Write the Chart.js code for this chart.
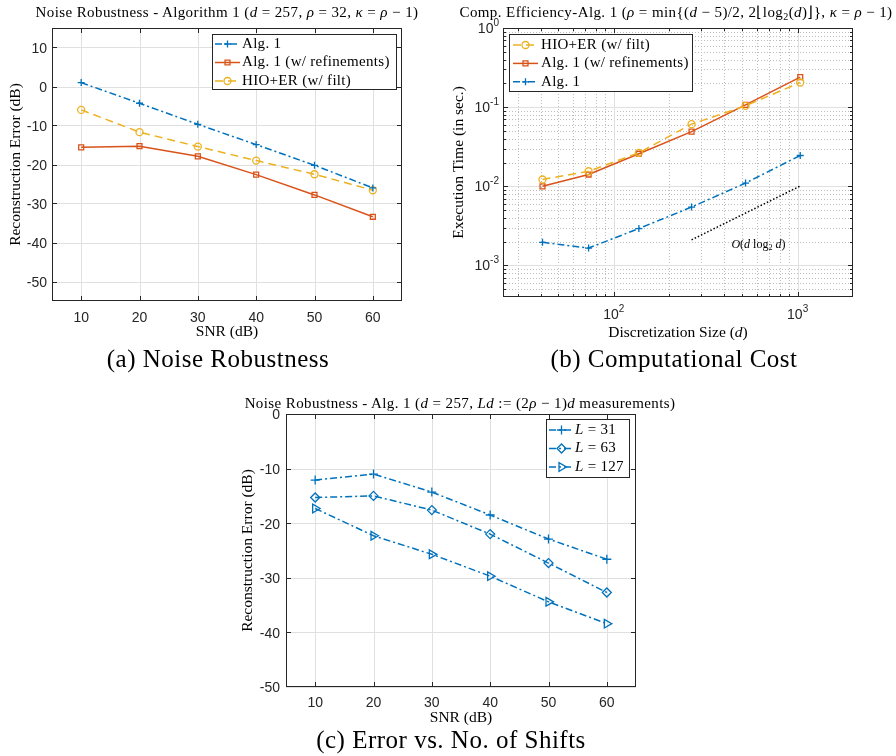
<!DOCTYPE html>
<html>
<head>
<meta charset="utf-8">
<script src="https://cdn.jsdelivr.net/npm/chart.js@4.4.1/dist/chart.umd.min.js"></script>
<style>
  body { margin: 0; background: #fff; }
  #page { position: relative; width: 896px; height: 756px; overflow: hidden; background: #fff; }
  canvas { position: absolute; }
  .tt, .cap { position: absolute; transform: translate(-50%, -50%); white-space: nowrap;
    font-family: "Liberation Serif", "Times New Roman", serif; color: #000; z-index: 2; }
  .tt { font-size: 15px; letter-spacing: 0.4px; }
  .cap { font-size: 25px; letter-spacing: 0.5px; }
  sub { font-size: 10px; vertical-align: -3px; line-height: 0; }
</style>
</head>
<body>
<div id="page">
  <div class="tt" style="left:227px;top:12px">Noise Robustness - Algorithm 1 (<i>d</i> = 257, <i>ρ</i> = 32, <i>κ</i> = <i>ρ</i> − 1)</div>
  <div class="tt" style="left:676px;top:12px">Comp. Efficiency-Alg. 1 (<i>ρ</i> = min{(<i>d</i> − 5)/2, 2⌊log<sub>2</sub>(<i>d</i>)⌋}, <i>κ</i> = <i>ρ</i> − 1)</div>
  <div class="tt" style="left:460px;top:403px">Noise Robustness - Alg. 1 (<i>d</i> = 257, <i>Ld</i> := (2<i>ρ</i> − 1)<i>d</i> measurements)</div>

  <canvas id="chart-a" width="420" height="350" style="left:0;top:0"></canvas>
  <canvas id="chart-b" width="456" height="350" style="left:440px;top:0"></canvas>
  <canvas id="chart-c" width="460" height="342" style="left:220px;top:392px"></canvas>

  <div class="cap" style="left:218px;top:359px">(a) Noise Robustness</div>
  <div class="cap" style="left:674px;top:359px">(b) Computational Cost</div>
  <div class="cap" style="left:451px;top:740px">(c) Error vs. No. of Shifts</div>
</div>

<script>
// data
// (a) noise robustness, error in dB
const snr = [10, 20, 30, 40, 50, 60];
const alg1_a    = [1.0, -4.3, -9.7, -14.9, -20.2, -26.0];
const alg1Ref_a = [-15.6, -15.3, -17.9, -22.6, -27.8, -33.4];
const hio_a     = [-6.0, -11.7, -15.4, -19.0, -22.5, -26.6];

// (b) execution time (s) vs discretization size d
const dsize = [41, 73, 137, 265, 521, 1033];
const hio_b     = [0.0122, 0.0155, 0.0265, 0.061, 0.104, 0.205];
const alg1Ref_b = [0.0100, 0.0141, 0.0258, 0.049, 0.107, 0.240];
const alg1_b    = [0.00196, 0.00166, 0.00293, 0.00547, 0.0110, 0.0245];
const refD = [265, 1033];        // O(d log2 d) guide
const refT = [0.00211, 0.0101];

// (c) error vs number of shifts
const L31  = [-12.1, -11.0, -14.3, -18.5, -22.9, -26.6];
const L63  = [-15.3, -15.0, -17.6, -22.0, -27.3, -32.7];
const L127 = [-17.3, -22.3, -25.7, -29.7, -34.4, -38.4];

// ticks
const snrTicks = [10, 20, 30, 40, 50, 60];
const errTicksA = [-50, -40, -30, -20, -10, 0, 10];
const errTicksC = [-50, -40, -30, -20, -10, 0];
const dExpB = [2, 3];            // 10^2, 10^3
const tExpB = [-3, -2, -1, 0];   // 10^-3 .. 10^0

// colours
const blue = '#0072BD', orange = '#D95319', yellow = '#EDB120';
const dashDot = [7, 3, 2, 3];
const dashed = [8, 5];

const sans = '"Liberation Sans", Arial, Helvetica, sans-serif';
const serif = '"Liberation Serif", "Times New Roman", serif';

function ds(label, xs, ys, color, dash, style, r, rot) {
  return {
    label: label,
    data: xs.map((x, i) => ({x: x, y: ys[i]})),
    borderColor: color,
    backgroundColor: 'rgba(0,0,0,0)',
    borderWidth: 1.5,
    borderDash: dash,
    pointStyle: style,
    pointRadius: r,
    pointRotation: rot || 0,
    pointBorderColor: color,
    pointBackgroundColor: 'rgba(0,0,0,0)',
    pointBorderWidth: 1.3,
    tension: 0
  };
}

// mixed italic / subscript text
function drawSegs(ctx, segs, x, y, size, align, spacing) {
  const fontOf = s => (s.i ? 'italic ' : '') + (s.sub ? Math.round(size * 0.7) : size) + 'px ' + serif;
  ctx.save();
  ctx.letterSpacing = (spacing || 0) + 'px';
  let w = 0;
  segs.forEach(s => { ctx.font = fontOf(s); w += ctx.measureText(s.t).width; });
  let cx = align === 'center' ? x - w / 2 : x;
  ctx.fillStyle = '#000';
  ctx.textBaseline = 'middle';
  ctx.textAlign = 'left';
  segs.forEach(s => {
    ctx.font = fontOf(s);
    ctx.fillText(s.t, cx, s.sub ? y + size * 0.3 : y);
    cx += ctx.measureText(s.t).width;
  });
  ctx.restore();
}

function pow10(ctx, x, y, e, align) {
  const b = '10', s = String(e);
  ctx.font = '14px ' + sans;
  const wb = ctx.measureText(b).width;
  ctx.font = '10px ' + sans;
  const we = ctx.measureText(s).width;
  const left = align === 'right' ? x - wb - we : x - (wb + we) / 2;
  ctx.fillStyle = '#262626';
  ctx.textBaseline = 'middle';
  ctx.textAlign = 'left';
  ctx.font = '14px ' + sans;
  ctx.fillText(b, left, y + 1);
  ctx.font = '10px ' + sans;
  ctx.fillText(s, left + wb, y - 5);
}

function minorLog(lo, hi) {
  // 2..9 x 10^k inside (lo, hi)
  const out = [];
  for (let k = Math.floor(Math.log10(lo)); k <= Math.ceil(Math.log10(hi)); k++)
    for (let m = 2; m <= 9; m++) {
      const v = m * Math.pow(10, k);
      if (v > lo * 1.0001 && v < hi * 0.9999) out.push(v);
    }
  return out;
}

// matlab-like axes: grid, box, inward ticks, legend box
const frame = {
  id: 'frame',
  beforeDatasetsDraw(chart, args, o) {
    const {ctx, chartArea: a, scales: {x, y}} = chart;
    ctx.save();
    ctx.lineWidth = 1;
    const vl = p => { p = Math.round(p) + 0.5; ctx.beginPath(); ctx.moveTo(p, a.top); ctx.lineTo(p, a.bottom); ctx.stroke(); };
    const hl = p => { p = Math.round(p) + 0.5; ctx.beginPath(); ctx.moveTo(a.left, p); ctx.lineTo(a.right, p); ctx.stroke(); };
    if (o.minorX) {
      ctx.strokeStyle = '#bdbdbd';
      ctx.setLineDash([1, 2]);
      o.minorX.forEach(v => vl(x.getPixelForValue(v)));
      o.minorY.forEach(v => hl(y.getPixelForValue(v)));
      ctx.setLineDash([]);
    }
    ctx.strokeStyle = '#e0e0e0';
    o.majorX.forEach(v => vl(x.getPixelForValue(v)));
    o.majorY.forEach(v => hl(y.getPixelForValue(v)));
    ctx.restore();
  },
  afterDatasetsDraw(chart, args, o) {
    const {ctx, chartArea: a, scales: {x, y}} = chart;
    ctx.save();
    ctx.strokeStyle = '#262626';
    ctx.lineWidth = 1;
    const seg = (x1, y1, x2, y2) => { ctx.beginPath(); ctx.moveTo(x1, y1); ctx.lineTo(x2, y2); ctx.stroke(); };
    const tx = (vals, len) => vals.forEach(v => {
      const p = Math.round(x.getPixelForValue(v)) + 0.5;
      if (p <= a.left + 1 || p >= a.right - 1) return;
      seg(p, a.bottom, p, a.bottom - len); seg(p, a.top, p, a.top + len);
    });
    const ty = (vals, len) => vals.forEach(v => {
      const p = Math.round(y.getPixelForValue(v)) + 0.5;
      if (p <= a.top + 1 || p >= a.bottom - 1) return;
      seg(a.left, p, a.left + len, p); seg(a.right, p, a.right - len, p);
    });
    tx(o.majorX, 5); ty(o.majorY, 5);
    if (o.minorX) { tx(o.minorX, 3); ty(o.minorY, 3); }
    ctx.strokeRect(Math.round(a.left) + 0.5, Math.round(a.top) + 0.5,
      Math.round(a.right - a.left) - 1, Math.round(a.bottom - a.top) - 1);

    // log tick labels
    if (o.logX) o.logX.forEach(e => pow10(ctx, x.getPixelForValue(Math.pow(10, e)), a.bottom + 17, e, 'center'));
    if (o.logY) o.logY.forEach(e => pow10(ctx, a.left - 4, y.getPixelForValue(Math.pow(10, e)), e, 'right'));
    if (o.xTitle) drawSegs(ctx, o.xTitle, (a.left + a.right) / 2, a.bottom + 36, 15.5, 'center');
    if (o.note) drawSegs(ctx, o.note.text, x.getPixelForValue(o.note.x), y.getPixelForValue(o.note.y), 12, 'center');

    // legend
    const g = o.legend;
    if (g) {
      const bx = Math.round(g.anchor === 'right' ? a.right - g.dx - g.w : a.left + g.dx);
      const by = Math.round(a.top + g.dy);
      ctx.fillStyle = '#fff';
      ctx.fillRect(bx, by, g.w, g.h);
      ctx.strokeStyle = '#262626';
      ctx.strokeRect(bx + 0.5, by + 0.5, g.w, g.h);
      g.items.forEach((it, k) => {
        const d = chart.data.datasets[it.ds];
        const cy = by + g.first + k * g.step;
        ctx.save();
        ctx.strokeStyle = d.borderColor;
        ctx.lineWidth = d.borderWidth;
        ctx.setLineDash(d.borderDash || []);
        seg(bx + g.lx, cy, bx + g.lx + g.len, cy);
        ctx.restore();
        ctx.save();
        ctx.strokeStyle = d.borderColor;
        ctx.fillStyle = 'rgba(0,0,0,0)';
        ctx.lineWidth = d.pointBorderWidth;
        Chart.helpers.drawPoint(ctx, {pointStyle: d.pointStyle, radius: d.pointRadius,
          rotation: d.pointRotation, borderWidth: d.pointBorderWidth}, bx + g.lx + g.len / 2, cy);
        ctx.restore();
        drawSegs(ctx, it.text, bx + g.tx, cy, 15, 'left', 0.3);
      });
    }
    ctx.restore();
  }
};

function axis(type, pos, min, max, ticks, size, title, tpad, lpad, showTicks) {
  return {
    type: type, position: pos, min: min, max: max,
    grid: {display: false, drawTicks: false},
    border: {display: false},
    ticks: {display: showTicks, font: {family: sans, size: 14}, color: '#262626',
      padding: lpad, autoSkip: false, maxRotation: 0, labelOffset: pos === 'left' ? 1.5 : 0},
    title: {display: !!title, text: title, font: {family: serif, size: 15.5}, color: '#000', padding: tpad},
    afterBuildTicks: ticks ? (s => { s.ticks = ticks.map(v => ({value: v})); }) : undefined,
    afterFit: s => {
      if (pos === 'bottom') s.height = size; else s.width = size;
      s.paddingTop = s.paddingBottom = s.paddingLeft = s.paddingRight = 0;
    }
  };
}

function options(pad, x, y, fr) {
  return {
    responsive: false,
    animation: false,
    events: [],
    layout: {padding: pad, autoPadding: false},
    plugins: {legend: {display: false}, tooltip: {enabled: false}, frame: fr},
    scales: {x: x, y: y}
  };
}

var chartA = null, chartB = null, chartC = null;

document.addEventListener('DOMContentLoaded', () => {

  chartA = new Chart(document.getElementById('chart-a'), {
    type: 'line',
    data: {datasets: [
      ds('Alg. 1', snr, alg1_a, blue, dashDot, 'cross', 3.5),
      ds('Alg. 1 (w/ refinements)', snr, alg1Ref_a, orange, [], 'rect', 3.5),
      ds('HIO+ER (w/ filt)', snr, hio_a, yellow, dashed, 'circle', 3.5)
    ]},
    options: options({top: 28, right: 18, left: 0, bottom: 0},
      axis('linear', 'bottom', 5, 65, snrTicks, 49, 'SNR (dB)', {top: 0, bottom: 9}, 9, true),
      axis('linear', 'left', -55, 15, errTicksA, 52, 'Reconstruction Error (dB)', {top: 6.7, bottom: 0}, 5, true),
      {majorX: snrTicks, majorY: errTicksA,
       legend: {anchor: 'right', dx: 6, dy: 6, w: 184, h: 55, first: 10, step: 18.5, lx: 3, len: 25, tx: 30,
         items: [
           {ds: 0, text: [{t: 'Alg. 1'}]},
           {ds: 1, text: [{t: 'Alg. 1 (w/ refinements)'}]},
           {ds: 2, text: [{t: 'HIO+ER (w/ filt)'}]}
         ]}}),
    plugins: [frame]
  });

  const refLine = ds('ref', refD, refT, '#000', [1.5, 2], 'circle', 0);

  chartB = new Chart(document.getElementById('chart-b'), {
    type: 'line',
    data: {datasets: [
      ds('HIO+ER (w/ filt)', dsize, hio_b, yellow, dashed, 'circle', 3.5),
      ds('Alg. 1 (w/ refinements)', dsize, alg1Ref_b, orange, [], 'rect', 3.5),
      ds('Alg. 1', dsize, alg1_b, blue, dashDot, 'cross', 3.5),
      refLine
    ]},
    options: options({top: 28, right: 43, left: 0, bottom: 0},
      axis('logarithmic', 'bottom', 25, 2000, null, 53, '', {top: 0, bottom: 9}, 6, false),
      axis('logarithmic', 'left', 4e-4, 1, null, 63, 'Execution Time (in sec.)', {top: 9.2, bottom: 0}, 5, false),
      {majorX: dExpB.map(e => Math.pow(10, e)), majorY: tExpB.map(e => Math.pow(10, e)),
       minorX: minorLog(25, 2000), minorY: minorLog(4e-4, 1),
       logX: dExpB, logY: tExpB,
       xTitle: [{t: 'Discretization Size ('}, {t: 'd', i: true}, {t: ')'}],
       note: {x: 612, y: 0.00184, text: [{t: 'O', i: true}, {t: '('}, {t: 'd', i: true}, {t: ' log'},
         {t: '2', sub: true}, {t: ' '}, {t: 'd', i: true}, {t: ')'}]},
       legend: {anchor: 'left', dx: 6, dy: 6, w: 183, h: 57, first: 11, step: 18.4, lx: 4, len: 25, tx: 32,
         items: [
           {ds: 0, text: [{t: 'HIO+ER (w/ filt)'}]},
           {ds: 1, text: [{t: 'Alg. 1 (w/ refinements)'}]},
           {ds: 2, text: [{t: 'Alg. 1'}]}
         ]}}),
    plugins: [frame]
  });

  chartC = new Chart(document.getElementById('chart-c'), {
    type: 'line',
    data: {datasets: [
      ds('L = 31', snr, L31, blue, dashDot, 'cross', 4.5),
      ds('L = 63', snr, L63, blue, dashDot, 'rectRot', 4.5),
      ds('L = 127', snr, L127, blue, dashDot, 'triangle', 5, 90)
    ]},
    options: options({top: 22, right: 44, left: 0, bottom: 0},
      axis('linear', 'bottom', 5, 65, snrTicks, 47, 'SNR (dB)', {top: 0, bottom: 6.7}, 8, true),
      axis('linear', 'left', -50, 0, errTicksC, 66, 'Reconstruction Error (dB)', {top: 18.7, bottom: 0}, 6, true),
      {majorX: snrTicks, majorY: errTicksC,
       legend: {anchor: 'right', dx: 7, dy: 5, w: 83, h: 58, first: 11, step: 18.5, lx: 3, len: 25, tx: 29,
         items: [
           {ds: 0, text: [{t: 'L', i: true}, {t: ' = 31'}]},
           {ds: 1, text: [{t: 'L', i: true}, {t: ' = 63'}]},
           {ds: 2, text: [{t: 'L', i: true}, {t: ' = 127'}]}
         ]}}),
    plugins: [frame]
  });

});
</script>
</body>
</html>
